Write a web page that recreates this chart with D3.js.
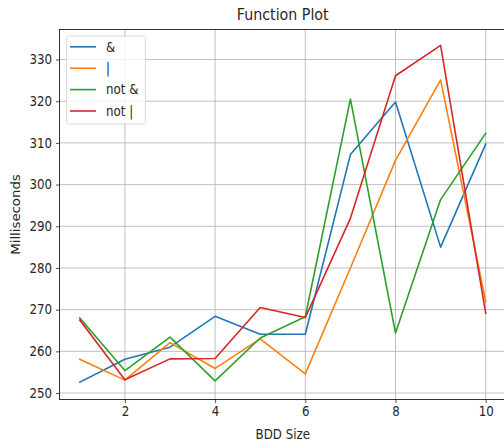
<!DOCTYPE html>
<html><head><meta charset="utf-8">
<script src="https://cdn.jsdelivr.net/npm/d3@7/dist/d3.min.js"></script>
<style>body{margin:0;background:#fff}svg{display:block}text{font-family:"DejaVu Sans",sans-serif;fill:#262626}</style>
</head><body><svg id="c" width="504" height="444"></svg>
<script>
const sizes = [1,2,3,4,5,6,7,8,9,10];
const andVals   = [252.6,258.1,261.0,268.4,264.1,264.1,307.2,319.8,285.0,309.7];
const orVals    = [258.1,253.1,262.1,255.9,263.0,254.6,280.0,305.8,325.1,271.9];
const notAnd    = [268.0,255.4,263.4,252.9,263.2,268.3,320.5,264.4,296.4,312.3];
const notOr     = [267.5,253.2,258.2,258.3,270.5,268.1,291.9,326.1,333.4,269.1];
const seriesNames = ["&","|","not &","not |"];
const colors = ["#1f77b4","#ff7f0e","#2ca02c","#d62728"];
const xTicks = [2,4,6,8,10];
const yTicks = [250,260,270,280,290,300,310,320,330];

const series = [andVals, orVals, notAnd, notOr];
const SX = 0.89;
const svg = d3.select("#c");
const L = 59.5, T = 29.5, B = 399.5, R = 506;
const x = d3.scaleLinear().domain([0.55,10.45]).range([L,R]);
const y = d3.scaleLinear().domain([248.45,337.2]).range([B,T]);

function squeeze(sel, rot){
  sel.each(function(){
    const t = d3.select(this);
    const tx = +t.attr("x")||0, ty = +t.attr("y")||0;
    t.attr("x",0).attr("y",0)
     .attr("transform",`translate(${tx},${ty}) scale(${SX},1)` + (rot?` rotate(${rot})`:""));
  });
}

svg.append("defs").append("clipPath").attr("id","clip").append("rect")
  .attr("x",L).attr("y",T).attr("width",R-L).attr("height",B-T);

// grid
const g = svg.append("g");
g.selectAll(".gx").data(xTicks).enter().append("line")
  .attr("x1",d=>x(d)).attr("x2",d=>x(d)).attr("y1",T).attr("y2",B)
  .attr("stroke","#b0b0b0").attr("stroke-width",0.8);
g.selectAll(".gy").data(yTicks).enter().append("line")
  .attr("y1",d=>y(d)).attr("y2",d=>y(d)).attr("x1",L).attr("x2",R)
  .attr("stroke","#b0b0b0").attr("stroke-width",0.8);

// lines
const line = d3.line().x((d,i)=>x(sizes[i])).y(d=>y(d));
svg.append("g").attr("clip-path","url(#clip)").selectAll("path").data(series).enter().append("path")
  .attr("d",d=>line(d)).attr("fill","none").attr("stroke",(d,i)=>colors[i])
  .attr("stroke-width",1.6).attr("stroke-linejoin","round").attr("stroke-linecap","square");

// axes
const xAxis = d3.axisBottom(x).tickValues(xTicks).tickSize(3.5).tickPadding(4);
const yAxis = d3.axisLeft(y).tickValues(yTicks).tickSize(3.5).tickPadding(4);
const gx = svg.append("g").attr("transform",`translate(0,${B})`).call(xAxis);
const gy = svg.append("g").attr("transform",`translate(${L},0)`).call(yAxis);
[gx,gy].forEach(a=>{
  a.select(".domain").remove();
  a.selectAll("line").attr("stroke","#262626").attr("stroke-width",0.8);
  a.selectAll("text").style("font-size","13.3px").style("font-family","DejaVu Sans").attr("fill","#262626");
  squeeze(a.selectAll("text"));
});
// spines
svg.append("rect").attr("x",L).attr("y",T).attr("width",R-L).attr("height",B-T)
  .attr("fill","none").attr("stroke","#000").attr("stroke-width",0.8);

// labels
const title = svg.append("text").attr("x",(L+R)/2).attr("y",20).attr("text-anchor","middle")
  .style("font-size","16px").text("Function Plot");
squeeze(title);
const xl = svg.append("text").attr("x",(L+R)/2).attr("y",439).attr("text-anchor","middle")
  .style("font-size","13.3px").text("BDD Size");
squeeze(xl);
const yl = svg.append("text").attr("x",20).attr("y",(T+B)/2).attr("text-anchor","middle")
  .style("font-size","13.3px").text("Milliseconds");
squeeze(yl,-90);

// legend
const lg = svg.append("g");
lg.append("rect").attr("x",66.5).attr("y",36).attr("width",79).attr("height",88).attr("rx",3)
  .attr("fill","rgba(255,255,255,0.8)").attr("stroke","#d0d0d0").attr("stroke-width",0.8);
seriesNames.forEach((n,i)=>{
  const yy = 46.8 + i*21.4;
  lg.append("line").attr("x1",70).attr("x2",96).attr("y1",yy).attr("y2",yy)
    .attr("stroke",colors[i]).attr("stroke-width",1.6);
  const t = lg.append("text").attr("x",106).attr("y",yy+4.8).style("font-size","13.3px").text(n);
  squeeze(t);
});
</script></body></html>
